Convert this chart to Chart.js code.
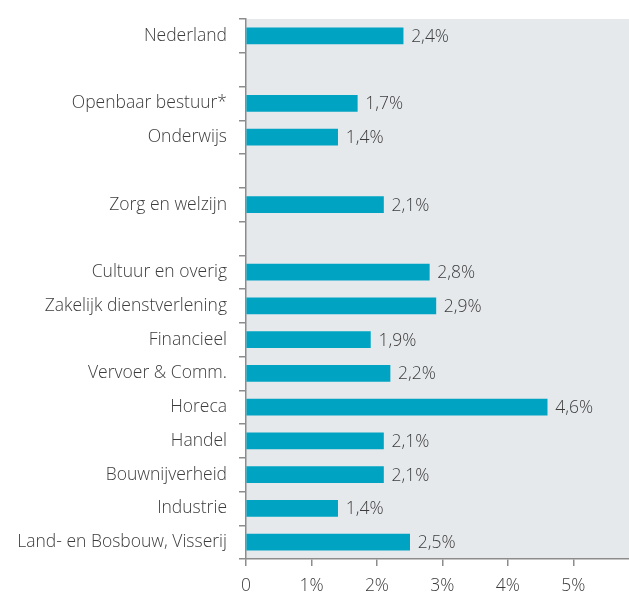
<!DOCTYPE html>
<html><head><meta charset="utf-8">
<script src="https://cdn.jsdelivr.net/npm/chart.js@4/dist/chart.umd.min.js"></script>
<style>html,body{margin:0;padding:0;background:#fff;}canvas{display:block;}</style>
</head><body>
<canvas id="c" width="629" height="593"></canvas>
<script>
const categories = ['Nederland', '', 'Openbaar bestuur*', 'Onderwijs', '', 'Zorg en welzijn', '', 'Cultuur en overig', 'Zakelijk dienstverlening', 'Financieel', 'Vervoer & Comm.', 'Horeca', 'Handel', 'Bouwnijverheid', 'Industrie', 'Land- en Bosbouw, Visserij'];
const values = [2.4, null, 1.7, 1.4, null, 2.1, null, 2.8, 2.9, 1.9, 2.2, 4.6, 2.1, 2.1, 1.4, 2.5];
const xTicks = [0, 1, 2, 3, 4, 5];
const xMax = 5.85;

const FONT = "'Open Sans', sans-serif";
const TXT = '#3c3c3c';
const FS = 17.5;
const fmt = v => v.toFixed(1).replace('.', ',') + '%';

const bgPlugin = {
  id: 'bg',
  beforeDraw(chart) {
    const a = chart.chartArea, ctx = chart.ctx;
    ctx.save(); ctx.fillStyle = '#e6e9ec';
    ctx.fillRect(a.left, a.top, a.right - a.left, a.bottom - a.top);
    ctx.restore();
  }
};
const labelPlugin = {
  id: 'vlabels',
  afterDatasetsDraw(chart) {
    const ctx = chart.ctx, meta = chart.getDatasetMeta(0);
    ctx.save();
    ctx.font = "300 " + FS + "px " + FONT; ctx.fillStyle = TXT;
    ctx.textAlign = 'left'; ctx.textBaseline = 'middle';
    meta.data.forEach((bar, i) => {
      const v = values[i];
      if (v == null) return;
      ctx.fillText(fmt(v), bar.x + 8, bar.y + 1);
    });
    ctx.restore();
  }
};

new Chart(document.getElementById('c'), {
  type: 'bar',
  data: { labels: categories, datasets: [{ data: values, backgroundColor: '#00a4c2', barThickness: 16, borderWidth: 0 }] },
  options: {
    indexAxis: 'y', responsive: false, animation: false,
    layout: { padding: { top: 19, right: 0, bottom: 0, left: 0 } },
    plugins: { legend: { display: false }, tooltip: { enabled: false } },
    scales: {
      x: {
        min: 0, max: xMax,
        afterBuildTicks(s) { s.ticks = xTicks.map(v => ({ value: v })); },
        afterFit(s) { s.height = 34; s.paddingLeft = 0; s.paddingRight = 0; },
        border: { display: true, color: '#8c8c8c', width: 1.5 },
        grid: { drawOnChartArea: false, drawTicks: true, tickLength: 7, color: '#8c8c8c', lineWidth: 1.5 },
        ticks: { color: TXT, font: { family: FONT, size: FS, weight: '300' }, padding: 10,
          callback: v => v === 0 ? '0' : v + '%' }
      },
      y: {
        afterFit(s) { s.width = 246; s.paddingTop = 0; s.paddingBottom = 0; },
        border: { display: true, color: '#8c8c8c', width: 1.5 },
        grid: { drawOnChartArea: false, drawTicks: true, tickLength: 7, color: '#8c8c8c', lineWidth: 1.5, offset: true },
        ticks: { color: TXT, font: { family: FONT, size: FS, weight: '300' }, padding: 12, autoSkip: false }
      }
    }
  },
  plugins: [bgPlugin, labelPlugin]
});
</script>
</body></html>
